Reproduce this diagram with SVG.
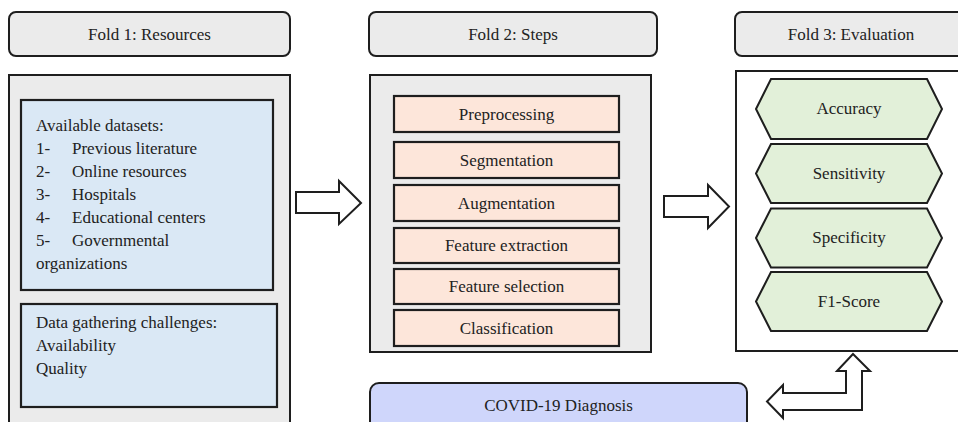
<svg xmlns="http://www.w3.org/2000/svg" width="958" height="422" viewBox="0 0 958 422">
<style>
text{font-family:"Liberation Serif","Times New Roman",serif;font-size:17px;fill:#222}
.c{text-anchor:middle}
.hdr{fill:#ebebeb;stroke:#1e1e1e;stroke-width:2}
.panel{fill:#ebebeb;stroke:#1e1e1e;stroke-width:2}
.blue{fill:#dae8f5;stroke:#1e1e1e;stroke-width:2.2}
.step{fill:#fde6da;stroke:#1e1e1e;stroke-width:2.2}
.hex{fill:#e2f0d9;stroke:#1e1e1e;stroke-width:2}
.arrow{fill:#fff;stroke:#1e1e1e;stroke-width:2;stroke-linejoin:miter}
</style>
<rect width="958" height="422" fill="#fff"/>

<g id="fold1-header">
<rect class="hdr" x="9" y="12" width="281" height="44" rx="7"/>
<text class="c" x="149.5" y="40">Fold 1: Resources</text>
</g>
<g id="fold2-header">
<rect class="hdr" x="369" y="12" width="288" height="44" rx="7"/>
<text class="c" x="513" y="40">Fold 2: Steps</text>
</g>
<g id="fold3-header">
<rect class="hdr" x="735" y="12" width="233" height="44" rx="7"/>
<text class="c" x="851" y="40">Fold 3: Evaluation</text>
</g>

<g id="fold1-panel">
<rect class="panel" x="9" y="75" width="281" height="360"/>
</g>
<g id="datasets">
<rect class="blue" x="21" y="100" width="252" height="190"/>
<text x="36" y="131">Available datasets:</text>
<text x="36" y="154">1-</text><text x="72" y="154">Previous literature</text>
<text x="36" y="177">2-</text><text x="72" y="177">Online resources</text>
<text x="36" y="200">3-</text><text x="72" y="200">Hospitals</text>
<text x="36" y="223">4-</text><text x="72" y="223">Educational centers</text>
<text x="36" y="246">5-</text><text x="72" y="246">Governmental</text>
<text x="36" y="269">organizations</text>
</g>
<g id="challenges">
<rect class="blue" x="21" y="304" width="256" height="103"/>
<text x="36" y="328">Data gathering challenges:</text>
<text x="36" y="351">Availability</text>
<text x="36" y="374">Quality</text>
</g>

<g id="fold2-panel">
<rect class="panel" x="370" y="75" width="281" height="277"/>
</g>
<g id="preprocessing"><rect class="step" x="394" y="96" width="225" height="36"/><text class="c" x="506.5" y="120">Preprocessing</text></g>
<g id="segmentation"><rect class="step" x="394" y="142" width="225" height="36"/><text class="c" x="506.5" y="166">Segmentation</text></g>
<g id="augmentation"><rect class="step" x="394" y="185" width="225" height="36"/><text class="c" x="506.5" y="209">Augmentation</text></g>
<g id="feature-extraction"><rect class="step" x="394" y="228" width="225" height="35"/><text class="c" x="506.5" y="251">Feature extraction</text></g>
<g id="feature-selection"><rect class="step" x="394" y="269" width="225" height="35"/><text class="c" x="506.5" y="292">Feature selection</text></g>
<g id="classification"><rect class="step" x="394" y="310" width="225" height="36"/><text class="c" x="506.5" y="334">Classification</text></g>

<g id="fold3-panel">
<rect x="736" y="71" width="230" height="280" fill="#fff" stroke="#1e1e1e" stroke-width="2"/>
</g>
<g id="accuracy"><polygon class="hex" points="756,109 771,79 927,79 942,109 927,139 771,139"/><text class="c" x="849" y="114">Accuracy</text></g>
<g id="sensitivity"><polygon class="hex" points="756,173.5 771,144 927,144 942,173.5 927,203 771,203"/><text class="c" x="849" y="178.5">Sensitivity</text></g>
<g id="specificity"><polygon class="hex" points="756,238 771,208.5 927,208.5 942,238 927,267.5 771,267.5"/><text class="c" x="849" y="243">Specificity</text></g>
<g id="f1-score"><polygon class="hex" points="756,301.5 771,272 927,272 942,301.5 927,331 771,331"/><text class="c" x="849" y="306.5">F1-Score</text></g>

<g id="covid-diagnosis">
<rect x="370" y="383" width="377" height="60" rx="9" fill="#cfd6fb" stroke="#1e1e1e" stroke-width="2"/>
<text class="c" x="558.5" y="411">COVID-19 Diagnosis</text>
</g>

<g id="connectors">
<polygon class="arrow" points="296,192 339,192 339,181 361,203 339,224 339,213 296,213"/>
<polygon class="arrow" points="664,196 708,196 708,185 729,206.5 708,228 708,217 664,217"/>
<polygon class="arrow" points="853,354 870,371 862,371 862,410 783,410 783,418 767,401.5 783,385 783,393 846,393 846,371 837,371"/>
</g>
</svg>
